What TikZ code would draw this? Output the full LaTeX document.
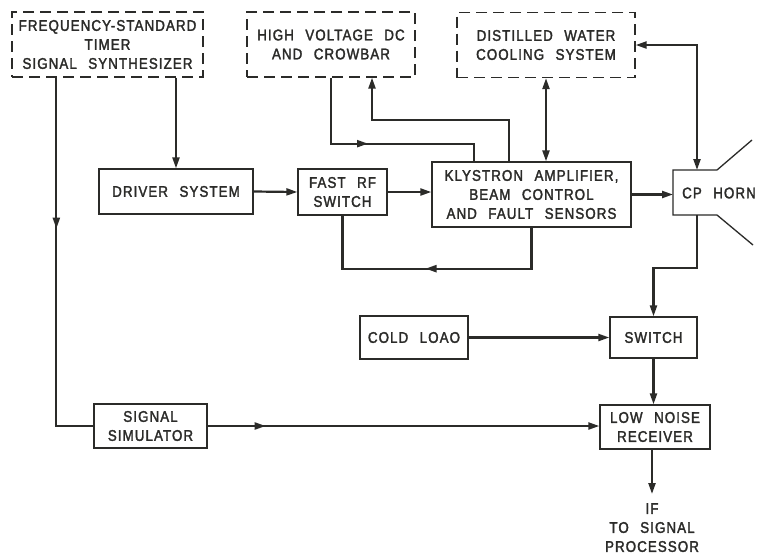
\documentclass[tikz,border=0pt]{standalone}
\usepackage{fontspec}
\setmainfont{Liberation Sans}[LetterSpace=7,WordSpace=2.4,FakeStretch=0.86,FakeBold=2]
\usetikzlibrary{arrows.meta,decorations.markings}
\definecolor{ink}{rgb}{0.17,0.17,0.16}
\begin{document}
\begin{tikzpicture}[x=1pt,y=-1pt,
  lbl/.style={font=\fontsize{15.5}{19}\selectfont, text=ink, align=center, inner sep=0pt},
  box/.style={lbl, draw=ink, line width=1.3pt, minimum width=#1},
  dbox/.style={box=#1, dash pattern=on 11pt off 6pt},
  conn/.style={draw=ink, line width=2.2pt},
  tip/.style={-{Triangle[length=11pt,width=7pt]}},
  twotip/.style={{Triangle[length=11pt,width=7pt]}-{Triangle[length=11pt,width=7pt]}},
  midarr/.style={postaction={decorate}, decoration={markings,
     mark=at position #1 with {\arrow{Triangle[length=11pt,width=7pt]}}}}
]
\useasboundingbox (0,0) rectangle (761,558);
\fill[white] (0,0) rectangle (761,558);

% nodes
\node[dbox=191pt, minimum height=65pt] (freq) at (107.5,44.5)
  {FREQUENCY-STANDARD\\TIMER\\SIGNAL SYNTHESIZER};
\node[dbox=168pt, minimum height=65pt] (hv) at (331,44.5)
  {HIGH VOLTAGE DC\\AND CROWBAR};
\node[dbox=178pt, minimum height=65pt] (dwc) at (546,45)
  {DISTILLED WATER\\COOLING SYSTEM};
\node[box=154pt, minimum height=45pt] (driver) at (176,191.5) {DRIVER SYSTEM};
\node[box=89pt, minimum height=46pt] (fast) at (342.5,192) {FAST RF\\SWITCH};
\node[box=199pt, minimum height=65pt] (kly) at (531.5,194.5)
  {KLYSTRON AMPLIFIER,\\BEAM CONTROL\\AND FAULT SENSORS};
\node[lbl] (horn) at (719,193) {CP HORN};
\coordinate (hornT) at (697,170);
\coordinate (hornB) at (697,215);
\coordinate (hornW) at (673,193);
\node[box=108pt, minimum height=43pt] (cold) at (414,337.5) {COLD LOAO};
\node[box=87pt, minimum height=41pt] (switch) at (653.5,337.5) {SWITCH};
\node[box=110pt, minimum height=44pt] (lnr) at (655,427) {LOW NOISE\\RECEIVER};
\node[box=113pt, minimum height=44pt] (sigsim) at (150.5,426) {SIGNAL\\SIMULATOR};
\node[lbl, anchor=north] (ifout) at (652,503) {IF\\TO SIGNAL\\PROCESSOR};

% horn outline
\draw[ink, line width=1.3pt] (752,140) -- (717,170) -- (673,170) -- (673,215) -- (717,215) -- (753,245);

% connectors
\draw[conn, tip] (driver.north |- freq.south) -- (driver.north);
\draw[conn, midarr=151pt] ([xshift=45pt]freq.south west) |- (sigsim.west);
\draw[conn, tip] (driver.east) -- (fast.west);
\draw[conn, tip] (fast.east) -- (fast.east -| kly.west);
\draw[conn, midarr=147pt] (kly.south) -- ++(0,41) -| (fast.south);
\draw[conn, midarr=103pt] (hv.south) -- ++(0,66) -| ([xshift=43pt]kly.north west);
\draw[conn, tip] ([xshift=78pt]kly.north west) -- ++(0,-41) -| ([xshift=41pt]hv.south);
\draw[conn, twotip] (dwc.south) -- (dwc.south |- kly.north);
\draw[conn, twotip] (dwc.east) -| (hornT);
\draw[conn, tip] (kly.east) -- (kly.east -| hornW);
\draw[conn, tip] (hornB) -- ++(0,53) -| (switch.north);
\draw[conn, tip] (cold.east) -- (switch.west);
\draw[conn, tip] (switch.south) -- (switch.south |- lnr.north);
\draw[conn, tip, midarr=58pt] (sigsim.east) -- (sigsim.east -| lnr.west);
\draw[conn, tip] (ifout.north |- lnr.south) -- ([yshift=9pt]ifout.north);
\end{tikzpicture}
\end{document}
